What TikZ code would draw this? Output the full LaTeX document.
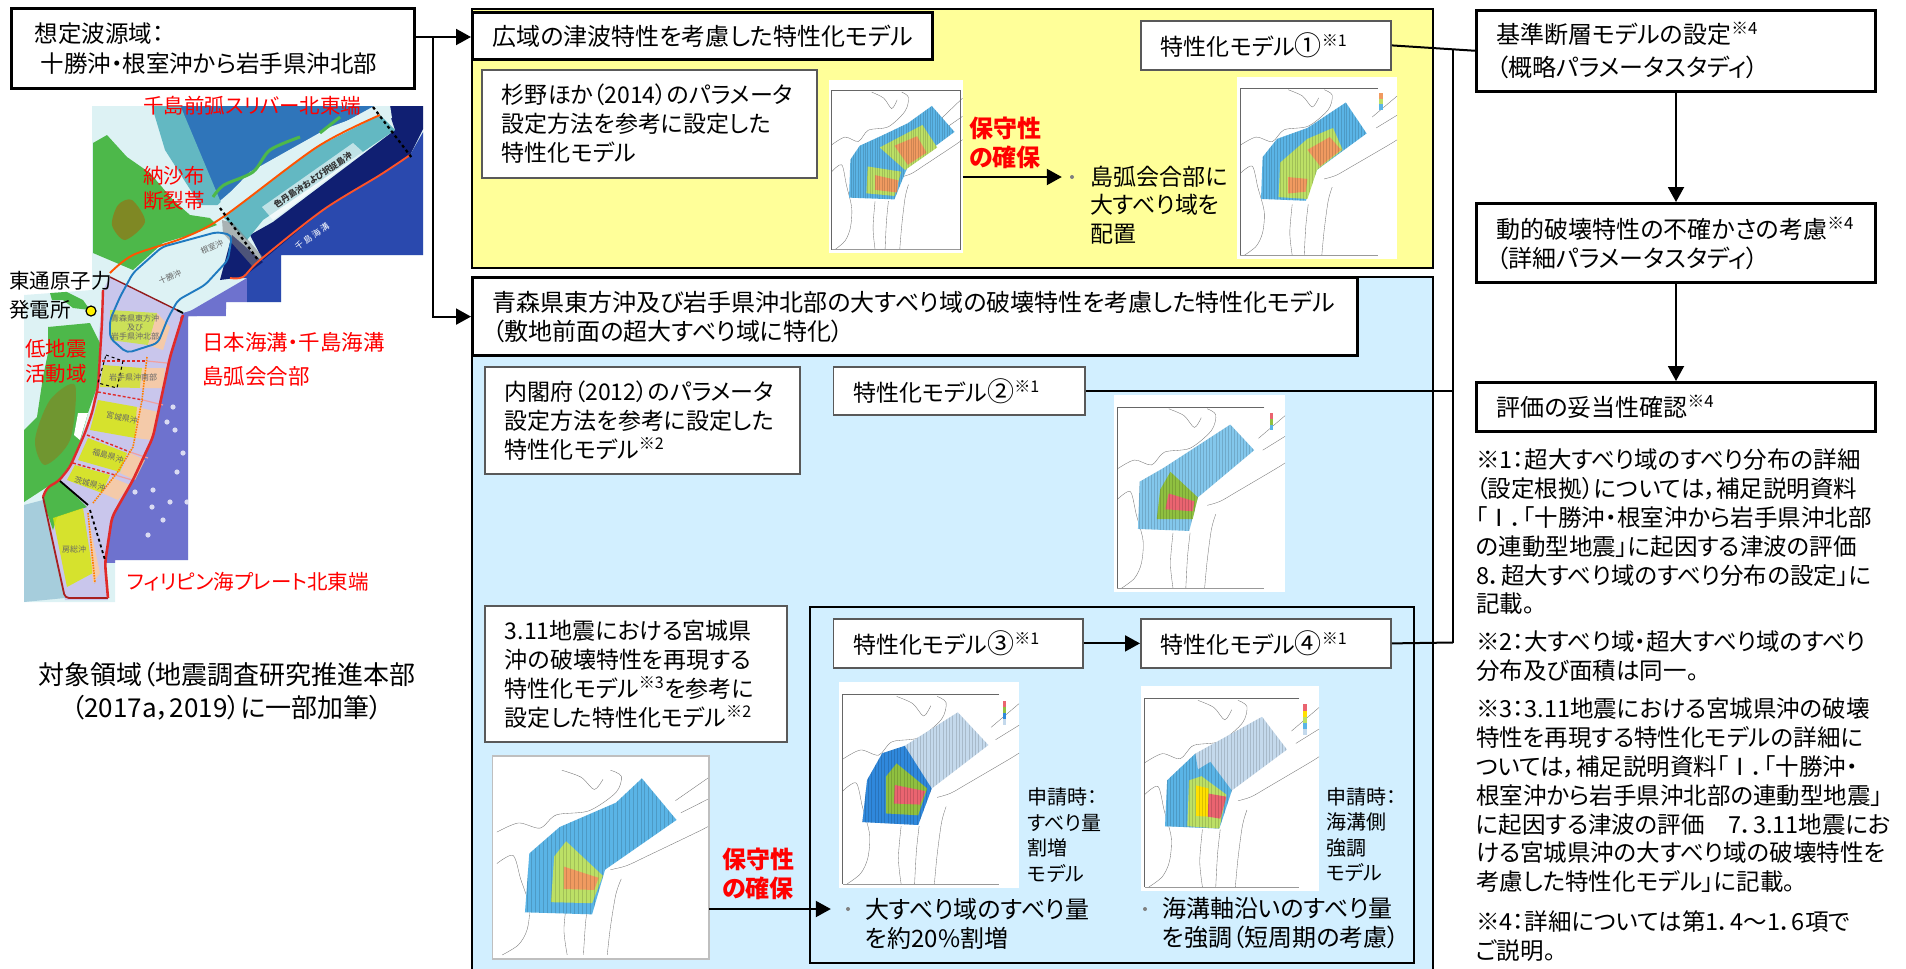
\documentclass[tikz,border=0pt]{standalone}
\usepackage{fontspec}
\usepackage{xcolor}
\usetikzlibrary{arrows.meta,positioning}
\setmainfont{Noto Sans CJK JP}[RawFeature=+palt]

\definecolor{panelyellow}{HTML}{FFFF99}
\definecolor{panelblue}{HTML}{D2EFFF}
\definecolor{meshblue}{HTML}{5AB4E6}
\definecolor{meshgreen}{HTML}{BCE066}
\definecolor{meshorange}{HTML}{F09A60}
\definecolor{meshred}{HTML}{EA6470}
\definecolor{meshpale}{HTML}{C4D9EC}
\definecolor{meshdeep}{HTML}{2F88DC}
\definecolor{meshleaf}{HTML}{8FC040}
\definecolor{meshyellow}{HTML}{FFE000}
\definecolor{maproute}{HTML}{E02A2A}
\definecolor{mapblue}{HTML}{1F7AC0}
\definecolor{landgreen}{HTML}{4DB84A}
\definecolor{seapale}{HTML}{DDF2F4}
\definecolor{seaviolet}{HTML}{6E72CE}
\definecolor{seazone}{HTML}{C9C6EC}
\definecolor{seablue}{HTML}{2A49AE}
\definecolor{seanavy}{HTML}{101F72}
\definecolor{seaokhotsk}{HTML}{2F75BA}
\definecolor{seateal}{HTML}{63B8C2}

\newcommand{\noteref}[1]{\textsuperscript{※#1}}
\newcommand{\modelnum}[1]{{\fontsize{27}{29}\selectfont #1}}
\newcommand{\meshpoly}[2]{%
	\fill[#1] #2;
	\begin{scope}
		\clip #2;
		\draw[meshline] (0,0) grid (1,1);
	\end{scope}}
\newcommand{\faultimg}[6]{%
	\node[imgbox, minimum width=#4pt, minimum height=#5pt] (#1) at (#2,#3) {};
	\begin{scope}[shift={(#2,#3)}, x=#4pt, y=-#5pt]
		\draw[coastline] plot[smooth] coordinates {(.02,.375) (.12,.33) (.22,.355) (.295,.29) (.445,.27) (.57,.18) (.595,.10) (.545,.07)};
		\draw[coastline] plot[smooth] coordinates {(.32,.07) (.41,.105) (.47,.165) (.51,.115)};
		\draw[coastline] plot[smooth] coordinates {(.02,.53) (.095,.49) (.13,.606) (.17,.74) (.16,.855) (.12,.93) (.045,.98)};
		\draw[coastline] plot[smooth] coordinates {(.545,.56) (.62,.54) (.72,.49) (.945,.375) (1,.345)};
		\draw[coastline] plot[smooth] coordinates {(.595,.605) (.57,.68) (.545,.84) (.53,.98)};
		\draw[coastline] plot[smooth] coordinates {(.445,.70) (.43,.82) (.42,.98)};
		\draw[coastline] plot[smooth] coordinates {(.345,.70) (.33,.855) (.345,.98)};
		\draw[coastline] (.845,.22) -- (1,.105);
		\draw[coastline] (.87,.28) -- (1,.21);
		#6
	\end{scope}}
\newcommand{\imgaxes}[1]{%
	\draw[black!60, line width=.5pt] (#1,.06) -- (.02,.06) -- (.02,.98);
	\draw[black!40, line width=.5pt] (.02,.98) -- (#1,.98);}

\begin{document}
\begin{tikzpicture}[
		x=1pt, y=-1pt,
		>={Triangle[length=15pt,width=16pt]},
		every node/.style = {inner sep=0pt},
		size/.style 2 args = {minimum width=#1pt, minimum height=#2pt, text width=#1pt-40pt},
		panel/.style = {draw, line width=2.2pt, anchor=north west},
		titlebox/.style = {draw, fill=white, line width=3.2pt, anchor=north west, align=left, font=\fontsize{24}{29}\selectfont},
		modelbox/.style = {draw=black!65, fill=white, line width=1.8pt, anchor=north west, align=left, font=\fontsize{23}{29}\selectfont},
		stagebox/.style = {draw, fill=white, line width=3pt, anchor=north west, align=left, font=\fontsize{24}{29}\selectfont},
		plain/.style = {anchor=west, align=left, font=\fontsize{24}{29}\selectfont},
		side/.style = {anchor=west, align=left, font=\fontsize{20}{25.5}\selectfont},
		noteline/.style = {anchor=west, align=left, font=\fontsize{23.5}{28.8}\selectfont},
		redhead/.style = {anchor=west, align=left, text=red, font=\fontsize{24}{28.5}\bfseries\selectfont},
		maplabel/.style = {anchor=west, align=left, text=red, font=\fontsize{20.5}{25}\selectfont},
		mapsmall/.style = {text=black!60, font=\fontsize{8}{9}\selectfont},
		imgbox/.style = {fill=white, anchor=north west},
		bulletdot/.style = {circle, fill=black!50, minimum size=4pt},
		seamount/.style = {fill=white, opacity=.75},
		coastline/.style = {black!55, line width=.35pt},
		meshline/.style = {black, opacity=.14, line width=.2pt, step=.018},
		zoneline/.style = {maproute, line width=1.4pt, densely dashed},
		link/.style = {line width=2pt},
		linkin/.style = {link, ->}
		]
		\useasboundingbox (0,0) rectangle (1906,969);
		
		% Panels --------------------------------------------------------
		\node[panel, fill=panelyellow, minimum width=961pt, minimum height=259pt] (widepanel) at (471,8) {};
		\node[panel, fill=panelblue, minimum width=961pt, minimum height=710pt] (nearpanel) at (471,276) {};
		
		% Map -----------------------------------------------------------
		\begin{scope}
			\clip (92,106) -- (423,106) -- (423,255) -- (281,255) -- (281,302) -- (226,302) -- (226,316) -- (188,316) -- (188,560) -- (115,560) -- (115,602) -- (24,602) -- (24,295) -- (92,290) -- cycle;
			\fill[seapale] (0,90) rectangle (430,610);
			% sea
			\fill[seazone] (110,277) -- (183,313) -- (170,357) -- (153,437) -- (133,480) -- (112,517) -- (105,563) -- (108,600) -- (65,600) -- (43,497) -- (60,482) -- (92,413) -- (103,290) -- cycle;
			\fill[seaviolet] (183,313) -- (226,300) -- (226,320) -- (190,320) -- (190,562) -- (105,563) -- (112,517) -- (133,480) -- (153,437) -- (170,357) -- cycle;
			\fill[seaviolet] (180,317) -- (247,278) -- (247,304) -- (180,320) -- cycle;
			\fill[seablue] (230,278) -- (243,277) -- (260,260) -- (323,210) -- (380,175) -- (410,155) -- (430,120) -- (430,258) -- (281,258) -- (281,304) -- (247,304) -- (247,278) -- cycle;
			\fill[seanavy] (263,260) -- (323,210) -- (380,175) -- (410,155) -- (430,115) -- (430,100) -- (385,100) -- (395,130) -- (273,222) -- (250,235) -- cycle;
			\fill[seanavy] (220,280) -- (232,235) -- (263,262) -- (243,277) -- cycle;
			\fill[seaokhotsk] (173,100) -- (385,100) -- (330,130) -- (250,175) -- (215,205) -- (195,160) -- cycle;
			\fill[seateal] (150,100) -- (178,100) -- (222,205) -- (200,205) -- (165,150) -- cycle;
			\fill[seapale] (215,208) -- (250,172) -- (330,127) -- (390,105) -- (392,118) -- (317,150) -- (223,219) -- cycle;
			\fill[seateal] (223,217) -- (317,147) -- (380,115) -- (395,130) -- (263,220) -- (247,240) -- cycle;
			\fill[white, opacity=.6] (262,207) -- (353,143) -- (363,152) -- (273,220) -- cycle;
			\fill[black!50, opacity=.55] (222,220) -- (233,223) -- (263,257) -- (253,267) -- (223,233) -- cycle;
			\foreach \mx/\my in {173/407, 167/422, 183/453, 177/472, 153/490, 170/502, 187/502, 152/507, 135/492, 163/520, 148/535, 175/430}
				\fill[seamount] (\mx,\my) circle (2.6);
			% land
			\fill[landgreen] (93,143) -- (107,135) -- (127,157) -- (150,173) -- (173,200) -- (190,215) -- (210,218) -- (217,225) -- (190,235) -- (163,243) -- (133,270) -- (93,253) -- cycle;
			\fill[orange!70!black, opacity=.5] plot[smooth cycle] coordinates {(118,205) (132,200) (145,222) (125,240) (112,225)};
			\draw[landgreen, line width=3pt] plot[smooth] coordinates {(213,197) (224,185) (253,172) (270,150) (300,137)};
			\draw[landgreen, line width=3pt] (320,133) -- (340,117);
			\fill[landgreen] (48,327) -- (90,323) -- (100,343) -- (97,387) -- (88,413) -- (77,453) -- (60,480) -- (47,487) -- (24,502) -- (24,430) -- (37,417) -- (43,377) -- (48,353) -- cycle;
			\fill[landgreen] (50,293) -- (63,290) -- (83,300) -- (90,310) -- (73,308) -- (63,300) -- (52,300) -- cycle;
			\fill[landgreen] (47,487) -- (60,480) -- (87,507) -- (57,517) -- (53,530) -- (43,500) -- cycle;
			\fill[orange!70!black, opacity=.35] plot[smooth cycle] coordinates {(50,400) (75,385) (70,440) (45,465) (35,440)};
			\fill[black!35!cyan!40!white] (24,505) -- (43,500) -- (65,598) -- (24,602) -- cycle;
			\fill[white] (78,413) -- (88,413) -- (80,440) -- (74,435) -- cycle;
			% segments
			\fill[yellow!75!green!80!white, opacity=.85] (110,310) -- (157,313) -- (148,345) -- (110,340) -- cycle;
			\fill[yellow!85!green, opacity=.75] (103,365) -- (142,368) -- (140,388) -- (100,387) -- cycle;
			\fill[yellow!85!green, opacity=.85] (98,400) -- (137,407) -- (135,438) -- (90,430) -- cycle;
			\fill[yellow!85!green, opacity=.85] (88,438) -- (127,453) -- (120,472) -- (78,460) -- cycle;
			\fill[yellow!85!green, opacity=.85] (75,465) -- (110,475) -- (102,493) -- (67,480) -- cycle;
			\fill[yellow!85!green, opacity=.85] (53,518) -- (83,508) -- (93,573) -- (67,587) -- cycle;
			\fill[orange!40!white, opacity=.8] (157,313) -- (170,327) -- (163,350) -- (148,345) -- cycle;
			\fill[orange!40!white, opacity=.8] (142,368) -- (165,368) -- (163,388) -- (140,388) -- cycle;
			\fill[orange!40!white, opacity=.8] (137,407) -- (158,412) -- (152,440) -- (135,438) -- cycle;
			\fill[orange!40!white, opacity=.8] (130,453) -- (145,460) -- (135,480) -- (120,473) -- cycle;
			\fill[orange!40!white, opacity=.8] (113,478) -- (130,485) -- (118,500) -- (102,493) -- cycle;
			\fill[orange!40!white, opacity=.8] (88,517) -- (100,573) -- (93,583) -- cycle;
			% boundaries
			\draw[zoneline] (102,361) -- (147,361);
			\draw[zoneline] (98,392) -- (143,400);
			\draw[zoneline] (87,435) -- (130,452);
			\draw[zoneline] (73,463) -- (115,475);
			\draw[maproute!45!white, line width=1.2pt] (147,361) -- (167,363);
			\draw[maproute!45!white, line width=1.2pt] (143,400) -- (163,405);
			\draw[maproute!45!white, line width=1.2pt] (130,452) -- (148,458);
			\draw[maproute!45!white, line width=1.2pt] (115,475) -- (132,480);
			\draw[orange, line width=1.6pt, densely dotted] (147,357) -- (142,400) -- (133,447) -- (117,473) -- (93,503);
			\draw[orange, line width=1.6pt, densely dotted] (88,513) -- (95,583);
			\draw[maproute!65!black, line width=1.4pt] (110,277) -- (177,310);
			% outlines
			\draw[orange!65!red, line width=1.9pt] plot[smooth] coordinates {(380,115) (317,147) (223,217) (183,238) (133,255) (110,273)};
			\draw[red!60!orange!85!white, line width=1.9pt] plot[smooth] coordinates {(230,278) (243,277) (260,260) (323,210) (380,175) (410,155)};
			\draw[maproute, line width=2.4pt, rounded corners=6pt] (103,290) -- (102,323) -- (98,387) -- (92,413) -- (85,433) -- (70,467) -- (58,482) -- (47,487) -- (43,497);
			\draw[maproute!75!black, line width=1.8pt, rounded corners=4pt] (43,497) -- (65,598) -- (108,598);
			\draw[maproute, line width=2.6pt, rounded corners=6pt] (108,598) -- (105,563) -- (112,517) -- (133,480) -- (153,437) -- (170,357) -- (183,315);
			\draw[mapblue, line width=1.9pt, rounded corners=5pt] (110,320) -- (120,297) -- (133,273) -- (162,247) -- (217,232) -- (232,235) -- (228,260) -- (205,285) -- (178,300) -- (168,318) -- (158,343) -- (127,353) -- (110,338) -- cycle;
			\draw[line width=2.2pt, dashed] (373,107) -- (412,158);
			\draw[line width=2.2pt, dashed] (220,208) -- (258,260);
			\draw[line width=1.8pt] (177,310) -- (183,313);
			\draw[line width=1.8pt] (60,481) -- (88,505);
			\draw[line width=1.8pt, dashed] (90,510) -- (105,560);
			\draw[line width=1pt, dashed] (106,355) -- (123,361) -- (117,388) -- (98,383) -- cycle;
			% small map labels
			\node[mapsmall, rotate=25] (lblnemuro) at (212,247) {根室沖};
			\node[mapsmall, rotate=25] (lbltokachi) at (170,277) {十勝沖};
			\node[mapsmall, rotate=34, text=black!80, font=\fontsize{8.5}{9}\bfseries\selectfont] (lblshikotan) at (313,180) {色丹島沖および択捉島沖};
			\node[mapsmall, text=white, rotate=35, font=\fontsize{8.5}{9}\selectfont] (lblkuril) at (312,236) {千 島 海 溝};
			\node[mapsmall, align=center] (lblaomori) at (135,327) {青森県東方沖\\及び\\岩手県沖北部};
			\node[mapsmall] (lbliwate) at (133,377) {岩手県沖南部};
			\node[mapsmall, rotate=-12] (lblmiyagi) at (122,418) {宮城県沖};
			\node[mapsmall, rotate=-15] (lblfukushima) at (108,456) {福島県沖};
			\node[mapsmall, rotate=-15] (lblibaraki) at (90,484) {茨城県沖};
			\node[mapsmall] (lblboso) at (74,549) {房総沖};
		\end{scope}
		
		% Map labels ----------------------------------------------------
		\node[maplabel] (lblsliver) at (143,106) {千島前弧スリバー北東端};
		\node[maplabel] (lblnosappu) at (143,188) {納沙布\\断裂帯};
		\node[plain, font=\fontsize{20.5}{29}\selectfont] (lblplant) at (9,295) {東通原子力\\発電所};
		\node[circle, draw, fill=yellow, line width=1.2pt, minimum size=10pt] (plant) at (91,311) {};
		\node[maplabel] (lblquiet) at (25,361) {低地震\\活動域};
		\node[maplabel, font=\fontsize{21.5}{34}\selectfont] (lbljunction) at (202,359) {日本海溝・千島海溝\\島弧会合部};
		\node[maplabel] (lblphilippine) at (127,582) {フィリピン海プレート北東端};
		\node[plain, anchor=center, align=center, font=\fontsize{26}{33}\selectfont] (caption) at (227,691) {対象領域（地震調査研究推進本部\\（2017a，2019）に一部加筆）};
		
		% Left and yellow panel -----------------------------------------
		\node[stagebox, font=\fontsize{23.5}{30.5}\selectfont, size={403}{80}] (source) at (10,7) {\hspace*{3pt}想定波源域：\\\hspace*{9pt}十勝沖・根室沖から岩手県沖北部};
		\node[titlebox, size={460}{47}] (widetitle) at (471,11) {広域の津波特性を考慮した特性化モデル};
		\node[modelbox, size={250}{49}] (model1) at (1140,20) {特性化モデル\modelnum{①}\noteref{1}};
		\node[modelbox, size={335}{108}] (sugino) at (481,69) {杉野ほか（2014）のパラメータ\\設定方法を参考に設定した\\特性化モデル};
		\faultimg{imga}{829}{80}{133.5}{173}{
			\meshpoly{meshblue}{(.77,.15) -- (.94,.30) -- (.59,.50) -- (.49,.69) -- (.15,.68) -- (.16,.46) -- (.23,.38) -- (.40,.32) -- (.59,.25) -- cycle}
			\meshpoly{meshgreen}{(.70,.26) -- (.81,.39) -- (.57,.52) -- (.38,.39) -- cycle}
			\meshpoly{meshorange}{(.66,.325) -- (.73,.42) -- (.59,.49) -- (.49,.38) -- cycle}
			\meshpoly{meshgreen}{(.29,.50) -- (.54,.53) -- (.49,.67) -- (.28,.655) -- cycle}
			\meshpoly{meshorange}{(.345,.55) -- (.52,.58) -- (.51,.65) -- (.345,.635) -- cycle}
			\imgaxes{.98}
			\draw[black!60, line width=.5pt] (.98,.06) -- (.98,.98);
		}
		\faultimg{imgb}{1237}{77}{160}{182}{
			\meshpoly{meshblue}{(.68,.14) -- (.81,.31) -- (.50,.51) -- (.43,.68) -- (.15,.67) -- (.16,.44) -- (.25,.34) -- (.44,.28) -- cycle}
			\meshpoly{meshgreen}{(.60,.28) -- (.66,.40) -- (.50,.51) -- (.44,.67) -- (.26,.66) -- (.27,.47) -- (.44,.34) -- cycle}
			\meshpoly{meshorange}{(.58,.33) -- (.65,.40) -- (.52,.49) -- (.44,.40) -- cycle}
			\meshpoly{meshorange}{(.32,.55) -- (.44,.56) -- (.43,.63) -- (.32,.64) -- cycle}
			\imgaxes{.88}
			\fill[meshorange] (.89,.09) rectangle (.91,.12);
			\fill[meshgreen] (.89,.12) rectangle (.91,.15);
			\fill[meshblue] (.89,.15) rectangle (.91,.18);
		}
		\node[redhead] (keepwide) at (969,143) {保守性\\の確保};
		\node[bulletdot] (bulletwide) at (1072,177) {};
		\node[plain, font=\fontsize{23}{28.5}\selectfont] (placetext) at (1090,205) {島弧会合部に\\大すべり域を\\配置};
		
		% Blue panel ----------------------------------------------------
		\node[titlebox, size={885}{78}] (neartitle) at (471,276) {青森県東方沖及び岩手県沖北部の大すべり域の破壊特性を考慮した特性化モデル\\（敷地前面の超大すべり域に特化）};
		\node[modelbox, size={315}{107}] (naikaku) at (484,366) {内閣府（2012）のパラメータ\\設定方法を参考に設定した\\特性化モデル\noteref{2}};
		\node[modelbox, size={251.5}{48}] (model2) at (832.5,366) {特性化モデル\modelnum{②}\noteref{1}};
		\faultimg{imgc}{1114}{395}{171}{197}{
			\meshpoly{meshblue!75!white}{(.68,.15) -- (.82,.28) -- (.49,.52) -- (.44,.69) -- (.14,.68) -- (.15,.44) -- (.29,.37) -- cycle}
			\meshpoly{meshleaf}{(.33,.39) -- (.49,.52) -- (.46,.63) -- (.25,.63) -- (.27,.48) -- cycle}
			\meshpoly{meshred}{(.32,.50) -- (.47,.54) -- (.46,.59) -- (.30,.58) -- cycle}
			\imgaxes{.88}
			\fill[meshred] (.91,.09) rectangle (.93,.12);
			\fill[meshleaf] (.91,.12) rectangle (.93,.15);
			\fill[meshblue] (.91,.15) rectangle (.93,.18);
		}
		\node[modelbox, size={302}{136}] (miyagi) at (484,605) {3.11地震における宮城県\\沖の破壊特性を再現する\\特性化モデル\noteref{3}を参考に\\設定した特性化モデル\noteref{2}};
		\node[draw, line width=2.2pt, anchor=north west, minimum width=603.5pt, minimum height=356pt] (innerframe) at (809,606) {};
		\node[modelbox, size={249.5}{49}] (model3) at (832.5,618) {特性化モデル\modelnum{③}\noteref{1}};
		\node[modelbox, size={250}{49}] (model4) at (1140,618) {特性化モデル\modelnum{④}\noteref{1}};
		\faultimg{imgd}{492.5}{756}{216.5}{203}{
			\meshpoly{meshblue}{(.69,.11) -- (.85,.315) -- (.52,.56) -- (.46,.78) -- (.15,.77) -- (.17,.48) -- (.31,.35) -- (.57,.23) -- cycle}
			\meshpoly{meshgreen}{(.34,.42) -- (.51,.59) -- (.46,.725) -- (.27,.72) -- (.285,.495) -- cycle}
			\meshpoly{meshorange}{(.33,.545) -- (.49,.60) -- (.47,.66) -- (.33,.655) -- cycle}
			\draw[black!25, line width=1.5pt] (0,0) rectangle (1,1);
		}
		\faultimg{imge}{839}{682}{180}{206}{
			\meshpoly{meshpale}{(.66,.147) -- (.83,.306) -- (.515,.517) -- (.44,.694) -- (.13,.68) -- (.156,.476) -- (.24,.346) -- (.365,.31) -- cycle}
			\meshpoly{meshdeep}{(.365,.31) -- (.515,.517) -- (.44,.694) -- (.13,.68) -- (.156,.476) -- (.24,.346) -- cycle}
			\meshpoly{meshleaf}{(.32,.395) -- (.49,.517) -- (.44,.647) -- (.26,.638) -- (.26,.46) -- cycle}
			\meshpoly{meshred}{(.31,.50) -- (.48,.53) -- (.45,.595) -- (.305,.59) -- cycle}
			\imgaxes{.89}
			\fill[meshred] (.91,.09) rectangle (.93,.12);
			\fill[meshleaf] (.91,.12) rectangle (.93,.15);
			\fill[meshdeep] (.91,.15) rectangle (.93,.18);
			\fill[meshpale] (.91,.18) rectangle (.93,.21);
		}
		\faultimg{imgf}{1141}{686}{178}{205}{
			\meshpoly{meshpale}{(.68,.15) -- (.82,.31) -- (.51,.51) -- (.44,.695) -- (.135,.684) -- (.147,.46) -- (.305,.33) -- cycle}
			\meshpoly{meshblue}{(.305,.33) -- (.32,.407) -- (.39,.37) -- (.51,.51) -- (.44,.695) -- (.135,.684) -- (.147,.46) -- cycle}
			\meshpoly{meshgreen}{(.27,.46) -- (.34,.44) -- (.48,.53) -- (.44,.695) -- (.26,.684) -- cycle}
			\meshpoly{meshyellow}{(.31,.485) -- (.38,.5) -- (.375,.637) -- (.31,.634) -- cycle}
			\meshpoly{meshred}{(.38,.525) -- (.48,.54) -- (.445,.647) -- (.375,.637) -- cycle}
			\imgaxes{.89}
			\fill[meshred] (.91,.09) rectangle (.93,.12);
			\fill[meshyellow] (.91,.12) rectangle (.93,.15);
			\fill[meshgreen] (.91,.15) rectangle (.93,.18);
			\fill[meshblue] (.91,.18) rectangle (.93,.21);
			\fill[meshpale] (.91,.21) rectangle (.93,.24);
		}
		\node[side] (apply3) at (1027.5,835) {申請時：\\すべり量\\割増\\モデル};
		\node[side] (apply4) at (1326,834.5) {申請時：\\海溝側\\強調\\モデル};
		\node[redhead] (keepnear) at (722,874) {保守性\\の確保};
		\node[bulletdot] (bullet3) at (848,909) {};
		\node[plain] (slip3) at (865,923.5) {大すべり域のすべり量\\を約20\%割増};
		\node[bulletdot] (bullet4) at (1145,909) {};
		\node[plain] (slip4) at (1162,923.5) {海溝軸沿いのすべり量\\を強調（短周期の考慮）};
		
		% Right column --------------------------------------------------
		\node[stagebox, font=\fontsize{24}{33}\selectfont, size={399}{80.5}] (basefault) at (1475,9) {基準断層モデルの設定\noteref{4}\\（概略パラメータスタディ）};
		\node[stagebox, size={399}{79}] (dynamic) at (1475,202) {動的破壊特性の不確かさの考慮\noteref{4}\\（詳細パラメータスタディ）};
		\node[stagebox, size={399}{49}] (validity) at (1475,381) {評価の妥当性確認\noteref{4}};
		\node[noteline] (noteone) at (1476,532) {※1：超大すべり域のすべり分布の詳細\\（設定根拠）については，補足説明資料\\「Ⅰ．「十勝沖・根室沖から岩手県沖北部\\の連動型地震」に起因する津波の評価\\8．超大すべり域のすべり分布の設定」に\\記載。};
		\node[noteline] (notetwo) at (1476,656) {※2：大すべり域・超大すべり域のすべり\\分布及び面積は同一。};
		\node[noteline] (notethree) at (1476,795.5) {※3：3.11地震における宮城県沖の破壊\\特性を再現する特性化モデルの詳細に\\ついては，補足説明資料「Ⅰ．「十勝沖・\\根室沖から岩手県沖北部の連動型地震」\\に起因する津波の評価　7．3.11地震にお\\ける宮城県沖の大すべり域の破壊特性を\\考慮した特性化モデル」に記載。};
		\node[noteline] (notefour) at (1476,936) {※4：詳細については第1．4～1．6項で\\ご説明。};
		
		% Arrows --------------------------------------------------------
		\coordinate (sourcefork) at (433,37);
		\draw[link] (source.east |- sourcefork) -- (sourcefork);
		\draw[linkin] (sourcefork) -- (widetitle.west |- sourcefork);
		\draw[linkin] (sourcefork) |- (neartitle.west);
		\draw[linkin] (imga.east |- bulletwide) -- ([xshift=-8pt]bulletwide.west);
		\draw[linkin] (imgd.east |- bullet3) -- ([xshift=-15pt]bullet3.west);
		\draw[linkin] (model3) -- (model4);
		\draw[linkin] (basefault) -- (dynamic);
		\draw[linkin] (dynamic) -- (validity);
		\coordinate (trunktop) at (1453,49);
		\coordinate (trunkend) at (1453,642.5);
		\draw[link] (model1.east) -- (basefault.west);
		\draw[link] (trunktop) -- (trunkend);
		\draw[link] (model2.east) -- (model2.east -| trunktop);
		\draw[link] (model4.east) -- (trunkend);
	\end{tikzpicture}
\end{document}
